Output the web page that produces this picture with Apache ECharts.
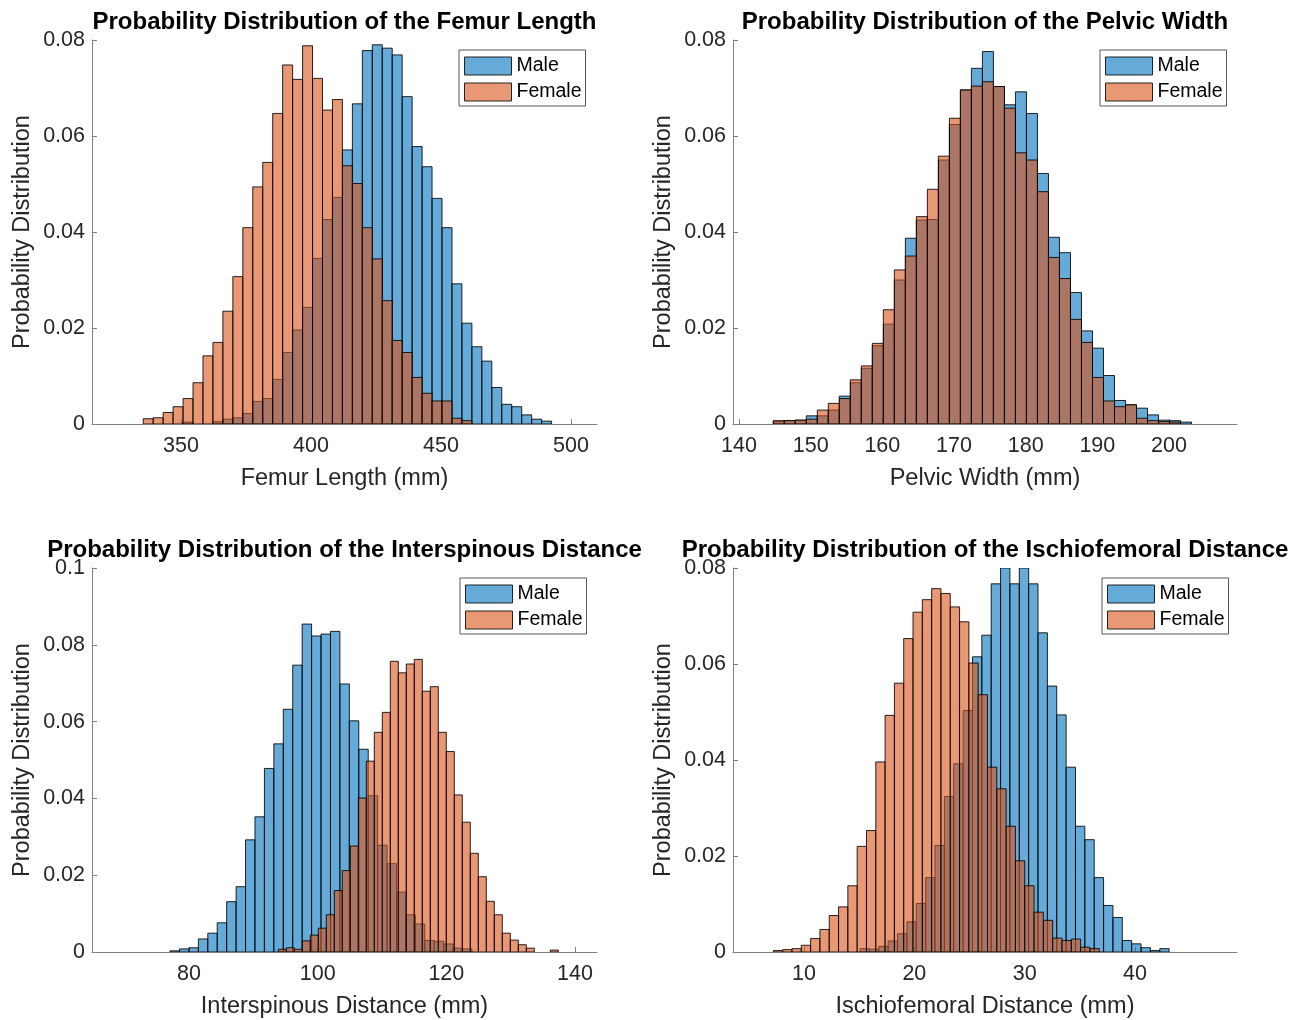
<!DOCTYPE html>
<html><head><meta charset="utf-8">
<script src="https://cdn.jsdelivr.net/npm/echarts@6/dist/echarts.min.js"></script>
<style>html,body{margin:0;padding:0;background:#fff}#c{width:1297px;height:1020px}</style>
</head><body><div id="c"></div>
<script>
// ---------- data (bin start, bin width, bar heights = probability) ----------
const femurMaleStart = 335.5, femurMaleWidth = 3.83;
const femurMale = [0,0,0,0,0.0004,0,0,0.0005,0.0010,0.0013,0.0022,0.0047,0.0053,0.0093,0.0149,0.0196,0.0243,0.0345,0.0426,0.0472,0.0571,0.0667,0.0778,0.0790,0.0783,0.0769,0.0682,0.0578,0.0536,0.0470,0.0409,0.0292,0.0210,0.0161,0.0131,0.0076,0.0041,0.0036,0.0019,0.0010,0.0006];
const femurFemaleStart = 335.5, femurFemaleWidth = 3.83;
const femurFemale = [0.0011,0.0013,0.0024,0.0036,0.0053,0.0086,0.0142,0.0170,0.0235,0.0307,0.0409,0.0494,0.0545,0.0647,0.0748,0.0718,0.0788,0.0720,0.0654,0.0676,0.0538,0.0501,0.0409,0.0344,0.0257,0.0174,0.0149,0.0097,0.0064,0.0048,0.0048,0.0012,0.0007];

const pelvicMaleStart = 144.78, pelvicMaleWidth = 1.536;
const pelvicMale = [0.0005,0.0007,0.0008,0.0017,0.0017,0.0029,0.0058,0.0086,0.0116,0.0163,0.0208,0.0300,0.0387,0.0425,0.0426,0.0550,0.0624,0.0696,0.0741,0.0776,0.0703,0.0665,0.0692,0.0647,0.0522,0.0389,0.0357,0.0274,0.0194,0.0158,0.0101,0.0049,0.0040,0.0033,0.0019,0.0008,0.0007,0.0004];
const pelvicFemaleStart = 144.78, pelvicFemaleWidth = 1.536;
const pelvicFemale = [0.0007,0.0007,0.0008,0.0010,0.0029,0.0043,0.0053,0.0092,0.0121,0.0168,0.0238,0.0321,0.0350,0.0432,0.0489,0.0558,0.0637,0.0696,0.0704,0.0713,0.0703,0.0658,0.0565,0.0550,0.0484,0.0347,0.0303,0.0218,0.0170,0.0097,0.0048,0.0036,0.0040,0.0012,0.0007,0.0005,0.0004,0];

const interMaleStart = 77.05, interMaleWidth = 1.467;
const interMale = [0.0003,0.0008,0.0011,0.0034,0.0049,0.0076,0.0131,0.0170,0.0292,0.0352,0.0478,0.0542,0.0632,0.0747,0.0854,0.0823,0.0828,0.0835,0.0698,0.0602,0.0528,0.0407,0.0278,0.0230,0.0156,0.0097,0.0073,0.0030,0.0028,0.0021,0.0010,0.0008];
const interFemaleStart = 93.88, interFemaleWidth = 1.2436;
const interFemale = [0.0007,0.0011,0.0007,0.0029,0.0044,0.0062,0.0097,0.0160,0.0212,0.0276,0.0401,0.0497,0.0572,0.0624,0.0757,0.0727,0.0750,0.0762,0.0679,0.0691,0.0572,0.0522,0.0409,0.0338,0.0257,0.0196,0.0132,0.0097,0.0049,0.0031,0.0019,0.0010,0,0,0.0005];

const ischioMaleStart = 15.08, ischioMaleWidth = 0.849;
const ischioMale = [0.0007,0.0006,0.0012,0.0023,0.0038,0.0063,0.0101,0.0155,0.0222,0.0324,0.0392,0.0503,0.0615,0.0660,0.0767,0.0800,0.0767,0.0800,0.0767,0.0665,0.0554,0.0494,0.0385,0.0262,0.0234,0.0155,0.0097,0.0072,0.0024,0.0017,0.0009,0.0003,0.0007];
const ischioFemaleStart = 7.22, ischioFemaleWidth = 0.844;
const ischioFemale = [0.0003,0.0005,0.0007,0.0014,0.0028,0.0047,0.0076,0.0094,0.0138,0.0220,0.0253,0.0396,0.0493,0.0560,0.0653,0.0708,0.0734,0.0757,0.0747,0.0719,0.0688,0.0602,0.0536,0.0385,0.0340,0.0262,0.0190,0.0138,0.0083,0.0066,0.0029,0.0024,0.0027,0.0010,0.0007];

const titles = ['Probability Distribution of the Femur Length','Probability Distribution of the Pelvic Width','Probability Distribution of the Interspinous Distance','Probability Distribution of the Ischiofemoral Distance'];
const xNames = ['Femur Length (mm)','Pelvic Width (mm)','Interspinous Distance (mm)','Ischiofemoral Distance (mm)'];
const yName = 'Probability Distribution';
const xRanges = [[315.8,510.0],[139.16,209.49],[64.92,143.42],[3.56,49.25]];
const xTicks = [[350,400,450,500],[140,150,160,170,180,190,200],[80,100,120,140],[10,20,30,40]];
const yMax = [0.08,0.08,0.1,0.08];
const seriesNames = ['Male','Female'];

// ---------- layout / style ----------
const FONT = "'Liberation Sans', Arial, Helvetica, sans-serif";
const grids = [
  {left:92, top:40, width:505, height:384},
  {left:733, top:40, width:504, height:384},
  {left:92, top:568, width:505, height:384},
  {left:733, top:568, width:504, height:384}
];
const legendPos = [[459,50],[1100,50],[460,578],[1102,578]];
const maleColor = 'rgba(0,114,189,0.6)';
const femaleColor = 'rgba(217,83,25,0.6)';

function bins(start, width, heights){
  return heights.map((h,i)=>[start+i*width, start+(i+1)*width, h]);
}
const panels = [
  [bins(femurMaleStart,femurMaleWidth,femurMale), bins(femurFemaleStart,femurFemaleWidth,femurFemale)],
  [bins(pelvicMaleStart,pelvicMaleWidth,pelvicMale), bins(pelvicFemaleStart,pelvicFemaleWidth,pelvicFemale)],
  [bins(interMaleStart,interMaleWidth,interMale), bins(interFemaleStart,interFemaleWidth,interFemale)],
  [bins(ischioMaleStart,ischioMaleWidth,ischioMale), bins(ischioFemaleStart,ischioFemaleWidth,ischioFemale)]
];

function histItem(params, api){
  const h = api.value(2);
  if (!(h > 0)) return null;
  const p0 = api.coord([api.value(0), 0]);
  const p1 = api.coord([api.value(1), h]);
  return {
    type:'rect',
    shape:{x:p0[0], y:p1[1], width:p1[0]-p0[0], height:p0[1]-p1[1]},
    style:{fill:api.visual('color'), stroke:'rgba(0,0,0,0.85)', lineWidth:1}
  };
}

const chart = echarts.init(document.getElementById('c'), null, {renderer:'canvas'});
const option = {
  backgroundColor:'#fff',
  animation:false,
  title: grids.map((g,i)=>({
    text: titles[i], left: g.left + g.width/2 - 5, top: g.top - 35, textAlign:'center',
    textStyle:{fontFamily:FONT, fontSize:24, fontWeight:'bold', color:'#000'}
  })),
  legend: legendPos.map(p=>({
    data: seriesNames, orient:'vertical', left:p[0], top:p[1],
    itemWidth:47, itemHeight:18, itemGap:6, padding:[6,4,4,5],
    borderColor:'#555', borderWidth:1, backgroundColor:'#fff', borderRadius:0,
    icon:'rect', itemStyle:{borderColor:'#222', borderWidth:1},
    textStyle:{fontFamily:FONT, fontSize:19.5, color:'#000'}, selectedMode:false
  })),
  grid: grids,
  xAxis: grids.map((g,i)=>({
    type:'value', gridIndex:i, min:xRanges[i][0], max:xRanges[i][1],
    name:xNames[i], nameLocation:'middle', nameGap:43,
    nameTextStyle:{fontFamily:FONT, fontSize:23.5, color:'#262626'},
    axisLine:{show:true, onZero:false, lineStyle:{color:'#808080', width:1}},
    axisTick:{show:true, inside:true, length:5, customValues:xTicks[i], lineStyle:{color:'#808080'}},
    axisLabel:{customValues:xTicks[i], margin:11, fontFamily:FONT, fontSize:21.5, color:'#262626'},
    splitLine:{show:false}
  })),
  yAxis: grids.map((g,i)=>({
    type:'value', gridIndex:i, min:0, max:yMax[i], interval:0.02,
    name:yName, nameLocation:'middle', nameGap:57,
    nameTextStyle:{fontFamily:FONT, fontSize:23.5, color:'#262626'},
    axisLine:{show:true, onZero:false, lineStyle:{color:'#808080', width:1}},
    axisTick:{show:true, inside:true, length:5, lineStyle:{color:'#808080'}},
    axisLabel:{margin:7, fontFamily:FONT, fontSize:21.5, color:'#262626',
      formatter:v=> v===0 ? '0' : String(+v.toFixed(2))},
    splitLine:{show:false}
  })),
  series: []
};
panels.forEach((pd,i)=>{
  option.series.push({
    type:'custom', name:'Male', xAxisIndex:i, yAxisIndex:i, data:pd[0],
    encode:{x:[0,1], y:2}, renderItem:histItem, clip:true,
    itemStyle:{color:maleColor, borderColor:'#222', borderWidth:1}
  });
  option.series.push({
    type:'custom', name:'Female', xAxisIndex:i, yAxisIndex:i, data:pd[1],
    encode:{x:[0,1], y:2}, renderItem:histItem, clip:true,
    itemStyle:{color:femaleColor, borderColor:'#222', borderWidth:1}
  });
});
chart.setOption(option);
</script>
</body></html>
